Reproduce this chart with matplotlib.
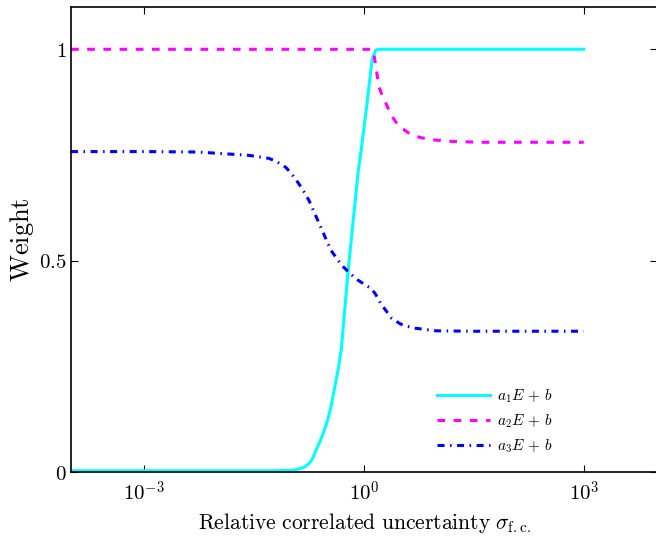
import numpy as np
import matplotlib
matplotlib.use("Agg")
import matplotlib.pyplot as plt
from matplotlib.ticker import FixedLocator, FuncFormatter, NullLocator

plt.rcParams["mathtext.fontset"] = "cm"
plt.rcParams["font.family"] = "serif"
plt.rcParams["font.serif"] = ["DejaVu Serif"]

# curve samples (log10 of sigma, weight)
a1_logx = [-4, -2, -1.2, -1.1, -1.0, -0.95, -0.9, -0.85, -0.8, -0.75, -0.7,
           -0.66, -0.6, -0.55, -0.5, -0.45, -0.4, -0.35, -0.31, -0.22, -0.08,
           -0.04, 0.04, 0.11, 0.16, 0.2, 1, 2, 3]
a1_y = [0.003, 0.003, 0.003, 0.004, 0.004, 0.005, 0.007, 0.009, 0.013, 0.02,
        0.032, 0.05, 0.072, 0.095, 0.12, 0.155, 0.2, 0.245, 0.29, 0.47, 0.71,
        0.76, 0.87, 0.975, 0.998, 1.0, 1.0, 1.0, 1.0]

a2_logx = [-4, -2, 0, 0.11, 0.137, 0.205, 0.25, 0.30, 0.35, 0.41, 0.46, 0.52,
           0.6, 0.71, 0.8, 0.93, 1.2, 1.6, 2, 3]
a2_y = [1.0, 1.0, 1.0, 1.0, 0.986, 0.911, 0.89, 0.872, 0.852, 0.834, 0.822,
        0.813, 0.803, 0.794, 0.79, 0.786, 0.782, 0.780, 0.780, 0.780]

a3_logx = [-4, -3, -2.3, -2.0, -1.57, -1.30, -1.2, -1.07, -1.0, -0.89, -0.82,
           -0.75, -0.59, -0.45, -0.30, -0.11, 0.04, 0.10, 0.16, 0.23, 0.38,
           0.5, 0.66, 0.98, 1.5, 2, 3]
a3_y = [0.758, 0.758, 0.757, 0.754, 0.749, 0.742, 0.735, 0.721, 0.708, 0.682,
        0.663, 0.642, 0.579, 0.524, 0.488, 0.457, 0.44, 0.434, 0.42, 0.398,
        0.363, 0.35, 0.341, 0.334, 0.333, 0.333, 0.333]

labels = [r"$a_1E\,+\,b$", r"$a_2E\,+\,b$", r"$a_3E\,+\,b$"]
x_ticks = [1e-3, 1e0, 1e3]
y_ticks = [0, 0.5, 1]


def main():
    fig = plt.figure(figsize=(6.56, 5.36), dpi=100)
    ax = fig.add_axes([71 / 656, 64 / 536, 586 / 656, 465 / 536])

    ax.plot(10.0 ** np.array(a1_logx), a1_y, color="cyan", lw=2.2,
            label=labels[0])
    ax.plot(10.0 ** np.array(a2_logx), a2_y, color="magenta", lw=2.2,
            dashes=(2.5, 2.8), label=labels[1])
    ax.plot(10.0 ** np.array(a3_logx), a3_y, color="blue", lw=2.2,
            dashes=(2.3, 1.8, 0.5, 1.8), label=labels[2])

    ax.set_xscale("log")
    ax.set_xlim(1e-4, 1e4)
    ax.set_ylim(0, 1.1)

    ax.xaxis.set_major_locator(FixedLocator(x_ticks))
    ax.xaxis.set_minor_locator(NullLocator())
    ax.xaxis.set_major_formatter(
        FuncFormatter(lambda v, p: r"$10^{%d}$" % round(np.log10(v))))
    ax.yaxis.set_major_locator(FixedLocator(y_ticks))
    ax.yaxis.set_major_formatter(
        FuncFormatter(lambda v, p: r"$%s$" % ("%g" % v)))

    ax.tick_params(direction="in", top=True, right=True, length=5,
                   width=0.8, labelsize=15)
    ax.tick_params(axis="x", pad=6)
    ax.tick_params(axis="y", pad=3)
    for s in ax.spines.values():
        s.set_linewidth(1.2)

    ax.set_xlabel(r"$\mathrm{Relative\ correlated\ uncertainty}\ \sigma_{\mathrm{f.c.}}$",
                  fontsize=15.5, labelpad=5)
    ax.set_ylabel(r"$\mathrm{Weight}$", fontsize=19, labelpad=2.5)

    ax.legend(loc="upper left", frameon=False, fontsize=11,
              handlelength=3.5, handletextpad=0.4, labelspacing=0.5,
              borderpad=0, borderaxespad=0,
              bbox_to_anchor=(0.6246, 0.183))

    fig.savefig("out.png", dpi=100)
    plt.close(fig)


if __name__ == "__main__":
    main()
